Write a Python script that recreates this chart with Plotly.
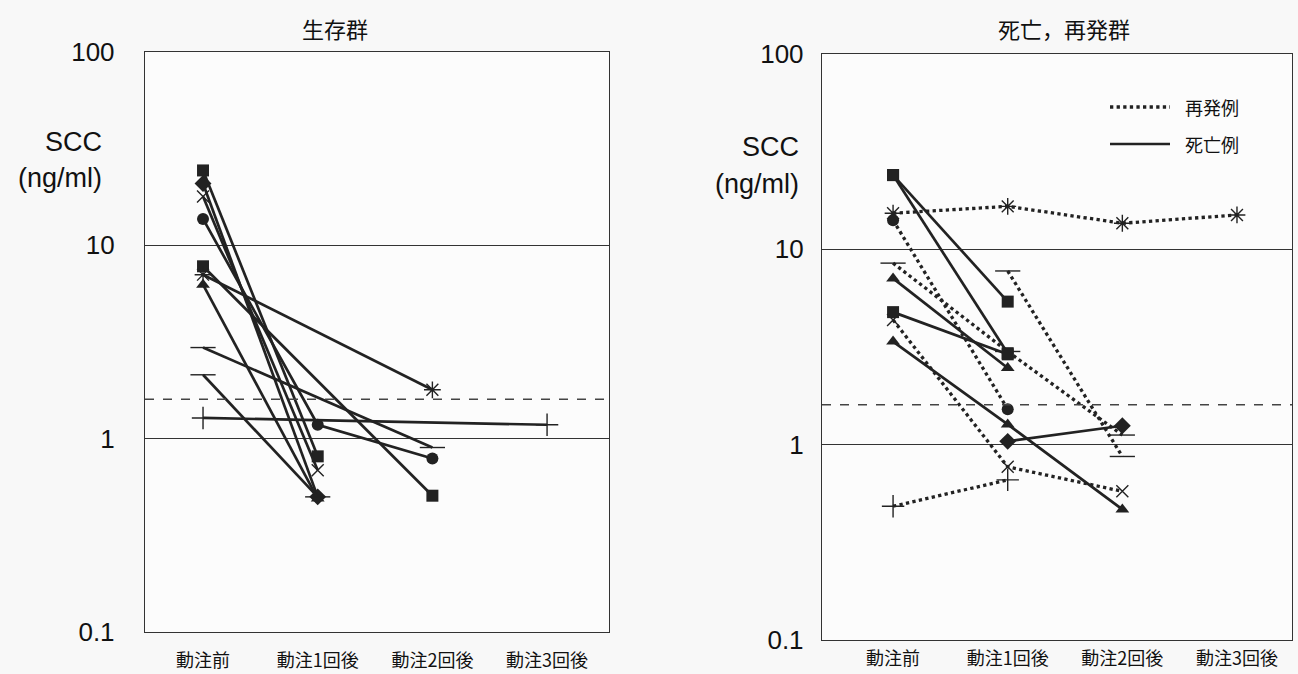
import plotly.graph_objects as go

categories = ["動注前", "動注1回後", "動注2回後", "動注3回後"]
x_idx = [0, 1, 2, 3]
y_ticks = [0.1, 1, 10, 100]
y_tick_text = ["0.1", "1", "10", "100"]
cutoff = 1.6

# ---- 生存群 (all solid) ----
surv_sq_a = [24.4, 0.81, None, None]
surv_dia = [20.9, 0.50, None, None]
surv_x = [17.9, 0.686, None, None]
surv_circ = [13.7, 1.18, 0.79, None]
surv_sq_b = [7.79, None, 0.507, None]
surv_ast = [7.05, None, 1.79, None]
surv_tri = [6.26, 0.49, None, None]
surv_bar_a = [2.96, None, 0.90, None]
surv_bar_b = [2.14, 0.50, None, None]
surv_plus = [1.28, None, None, 1.18]

# ---- 死亡，再発群 : 再発例 (dotted) ----
rec_ast = [15.3, 16.6, 13.6, 15.0]
rec_circ = [14.1, 1.52, None, None]
rec_bar = [8.5, 3.0, 1.12, None]
rec_x = [4.35, 0.77, 0.577, None]
rec_plus = [0.484, 0.66, None, None]
rec_bar_b = [None, 7.75, 0.87, None]

# ---- 死亡例 (solid) ----
dead_sq_a = [24.0, 5.4, None, None]
dead_sq_b = [24.0, 2.94, None, None]
dead_tri_a = [7.1, 2.47, None, None]
dead_sq_c = [4.77, 2.9, None, None]
dead_tri_b = [3.37, 1.27, 0.466, None]
dead_dia = [None, 1.04, 1.25, None]

INK = "#222222"

def sym_style(sym):
    open_syms = {"x-thin-open": 12, "asterisk-open": 14, "line-ew-open": 18, "cross-thin-open": 16}
    if sym in open_syms:
        return dict(symbol=sym, size=open_syms[sym], color=INK, line=dict(color=INK, width=1.4))
    size = {"square": 12, "diamond": 13, "circle": 12, "triangle-up": 12}[sym]
    return dict(symbol=sym, size=size, color=INK, line=dict(color=INK, width=0))

def add_series(fig, vals, sym, dash, xa, ya):
    fig.add_trace(go.Scatter(
        x=x_idx, y=vals, mode="lines+markers", connectgaps=True,
        line=dict(color=INK, width=2.7 if dash == "solid" else 3.3, dash=dash),
        marker=sym_style(sym), xaxis=xa, yaxis=ya, showlegend=False, hoverinfo="skip"))

fig = go.Figure()

left = [
    (surv_sq_a, "square"), (surv_dia, "diamond"), (surv_x, "x-thin-open"),
    (surv_circ, "circle"), (surv_sq_b, "square"), (surv_ast, "asterisk-open"),
    (surv_tri, "triangle-up"), (surv_bar_a, "line-ew-open"),
    (surv_bar_b, "line-ew-open"), (surv_plus, "cross-thin-open"),
]
for vals, sym in left:
    add_series(fig, vals, sym, "solid", "x", "y")

right_dot = [
    (rec_ast, "asterisk-open"), (rec_circ, "circle"), (rec_bar, "line-ew-open"),
    (rec_x, "x-thin-open"), (rec_plus, "cross-thin-open"), (rec_bar_b, "line-ew-open"),
]
right_solid = [
    (dead_sq_a, "square"), (dead_sq_b, "square"), (dead_tri_a, "triangle-up"),
    (dead_sq_c, "square"), (dead_tri_b, "triangle-up"), (dead_dia, "diamond"),
]
for vals, sym in right_dot:
    add_series(fig, vals, sym, "dot", "x2", "y2")
for vals, sym in right_solid:
    add_series(fig, vals, sym, "solid", "x2", "y2")

xr_left = [-0.506, 3.54]
xr_right = [-0.62, 3.48]
fig.add_trace(go.Scatter(x=xr_left, y=[cutoff, cutoff], mode="lines",
                         line=dict(color="#444", width=1.6, dash="dash"),
                         xaxis="x", yaxis="y", showlegend=False, hoverinfo="skip"))
fig.add_trace(go.Scatter(x=xr_right, y=[cutoff, cutoff], mode="lines",
                         line=dict(color="#444", width=1.6, dash="dash"),
                         xaxis="x2", yaxis="y2", showlegend=False, hoverinfo="skip"))

W, H = 1298, 674
num_font = dict(family="Liberation Sans, Arial, sans-serif", size=26, color="#111")
cjk_font = dict(family="Noto Sans CJK JP, sans-serif", size=18, color="#111")

def xaxis(domain, rng, anchor, standoff):
    return dict(domain=domain, range=rng, anchor=anchor, tickvals=x_idx, ticktext=categories,
                showgrid=False, zeroline=False, showline=True, mirror=True,
                linecolor="#333", linewidth=1.4, ticks="", tickfont=cjk_font,
                ticklabelstandoff=standoff, automargin=False)

def yaxis(domain, anchor, standoff):
    return dict(domain=domain, type="log", range=[-1, 2], anchor=anchor,
                tickvals=y_ticks, ticktext=y_tick_text, showgrid=True,
                gridcolor="#333", gridwidth=1.2, zeroline=False, showline=True,
                mirror=True, linecolor="#333", linewidth=1.4, ticks="",
                tickfont=num_font, ticklabelstandoff=standoff, automargin=False)

fig.update_layout(
    width=W, height=H, margin=dict(l=0, r=0, t=0, b=0, pad=0),
    paper_bgcolor="#f8f8f8", plot_bgcolor="#fcfcfc",
    xaxis=xaxis([145 / W, 609 / W], xr_left, "y", 12),
    yaxis=yaxis([1 - 632 / H, 1 - 52 / H], "x", 24),
    xaxis2=xaxis([822 / W, 1292 / W], xr_right, "y2", 2),
    yaxis2=yaxis([1 - 640 / H, 1 - 54 / H], "x2", 12),
)

def px(xp, yp):
    return xp / W, 1 - yp / H

title_font = dict(family="Noto Sans CJK JP, sans-serif", size=22, color="#111")
legend_font = dict(family="Noto Sans CJK JP, sans-serif", size=18, color="#111")
label_font = dict(family="Liberation Sans, Arial, sans-serif", size=27, color="#111")
annots = [
    ("生存群", 335, 28, title_font, "center"),
    ("死亡，再発群", 1064, 28, title_font, "center"),
    ("SCC", 73, 142, label_font, "center"),
    ("(ng/ml)", 60, 178, label_font, "center"),
    ("SCC", 770, 147, label_font, "center"),
    ("(ng/ml)", 757, 184, label_font, "center"),
    ("再発例", 1183, 107, legend_font, "left"),
    ("死亡例", 1183, 144, legend_font, "left"),
]
for text, xp, yp, font, align in annots:
    ax, ay = px(xp, yp)
    fig.add_annotation(text=text, x=ax, y=ay, xref="paper", yref="paper",
                       showarrow=False, font=font,
                       xanchor="left" if align == "left" else "center", yanchor="middle")

for (y, dash, w) in [(107, "dot", 3.3), (144, "solid", 2.7)]:
    x0, y0 = px(1110, y)
    x1, _ = px(1170, y)
    fig.add_shape(type="line", x0=x0, x1=x1, y0=y0, y1=y0, xref="paper", yref="paper",
                  line=dict(color=INK, width=w, dash=dash))

fig.write_html("out.html", config={"displayModeBar": False},
               post_script="document.body.style.margin='0px';document.body.style.overflow='hidden';")
